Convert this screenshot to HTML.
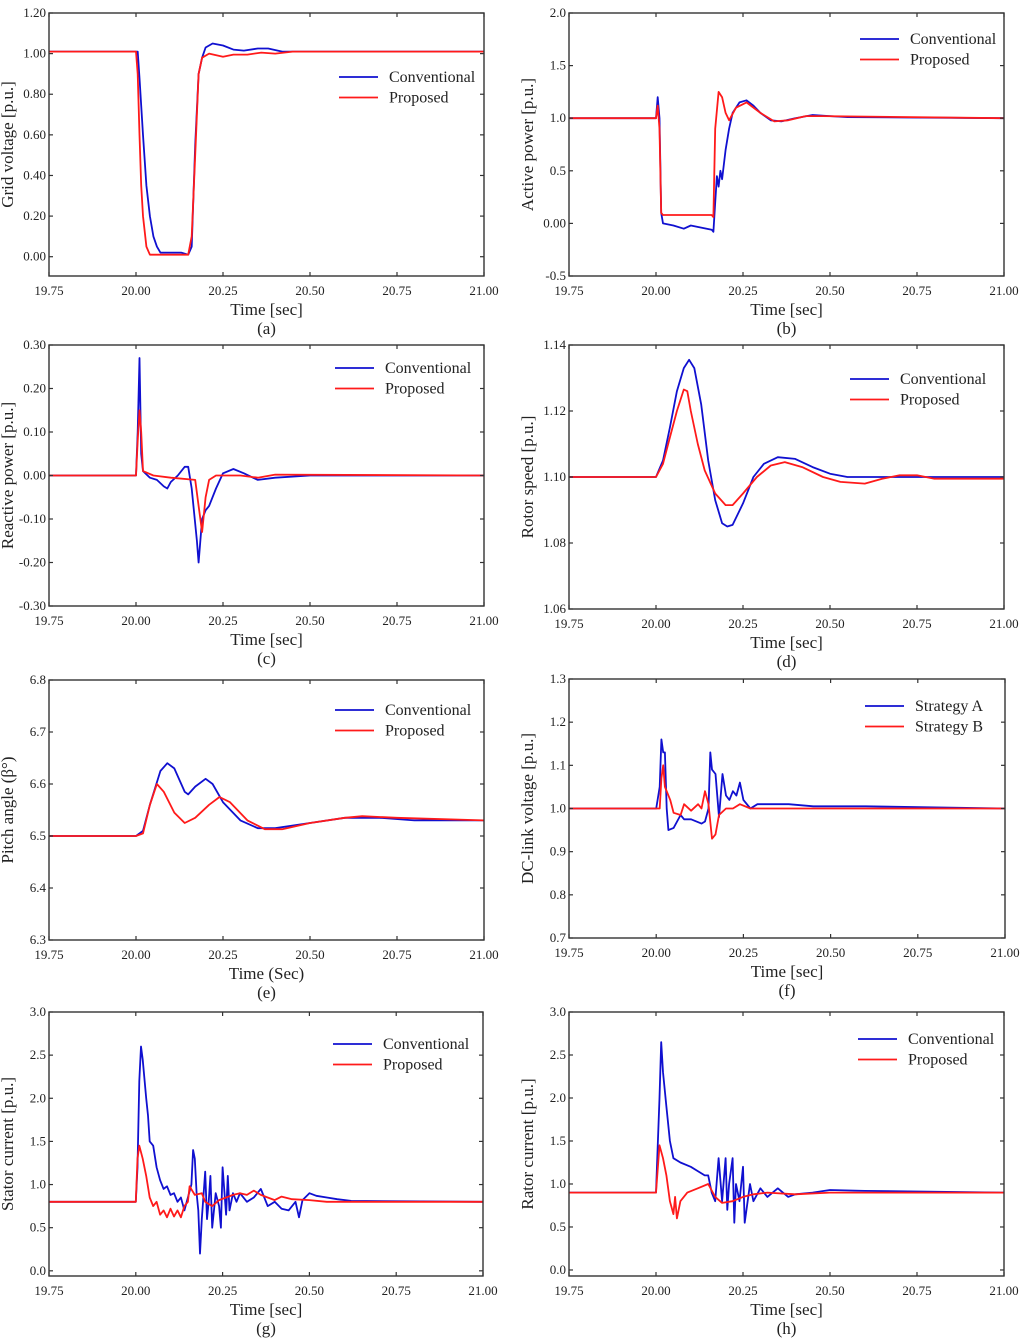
<!DOCTYPE html>
<html><head><meta charset="utf-8"><style>
body{margin:0;background:#fff;width:1024px;height:1338px;overflow:hidden}
svg text{font-family:"Liberation Serif",serif;fill:#222}
</style></head><body>
<svg id="fig" width="1024" height="1338" viewBox="0 0 1024 1338" xmlns="http://www.w3.org/2000/svg"></svg>
<script>
// ---- data (time arrays and value arrays) ----
const aT1=[19.75,20.0,20.005,20.01,20.02,20.03,20.04,20.05,20.06,20.07,20.13,20.15,20.16,20.17,20.18,20.19,20.2,20.22,20.25,20.28,20.31,20.35,20.38,20.42,20.5,21];
const aV1=[1.01,1.01,1.01,0.88,0.6,0.35,0.2,0.1,0.05,0.02,0.02,0.01,0.05,0.55,0.9,0.98,1.03,1.05,1.04,1.02,1.015,1.025,1.025,1.01,1.01,1.01];
const aT2=[19.75,20.0,20.005,20.01,20.015,20.02,20.03,20.04,20.15,20.16,20.17,20.18,20.19,20.21,20.25,20.28,20.32,20.36,20.4,20.45,21];
const aV2=[1.01,1.01,0.9,0.6,0.35,0.2,0.05,0.01,0.01,0.1,0.5,0.9,0.98,1.0,0.985,0.995,0.995,1.005,1.0,1.01,1.01];

const bT1=[19.75,20.0,20.005,20.01,20.015,20.02,20.05,20.08,20.1,20.13,20.16,20.165,20.17,20.175,20.18,20.185,20.19,20.2,20.21,20.22,20.24,20.26,20.28,20.3,20.33,20.36,20.4,20.45,20.5,20.55,21];
const bV1=[1.0,1.0,1.2,1.0,0.1,0.0,-0.02,-0.05,-0.02,-0.04,-0.06,-0.08,0.2,0.45,0.35,0.5,0.42,0.7,0.9,1.05,1.15,1.17,1.12,1.05,0.98,0.97,1.0,1.03,1.02,1.01,1.0];
const bT2=[19.75,20.0,20.005,20.01,20.015,20.02,20.16,20.165,20.17,20.18,20.19,20.2,20.21,20.23,20.26,20.3,20.34,20.38,20.43,20.48,21];
const bV2=[1.0,1.0,1.12,0.9,0.1,0.08,0.08,0.06,0.9,1.25,1.2,1.05,0.98,1.1,1.15,1.05,0.97,0.98,1.02,1.02,1.0];

const cT1=[19.75,20.0,20.005,20.01,20.015,20.02,20.04,20.06,20.08,20.09,20.1,20.12,20.14,20.15,20.16,20.175,20.18,20.19,20.2,20.21,20.23,20.25,20.28,20.31,20.35,20.4,20.5,21];
const cV1=[0,0,0.1,0.27,0.05,0.01,-0.005,-0.01,-0.025,-0.03,-0.015,0.0,0.02,0.02,-0.03,-0.15,-0.2,-0.1,-0.08,-0.07,-0.03,0.005,0.015,0.005,-0.01,-0.005,0,0];
const cT2=[19.75,20.0,20.005,20.01,20.015,20.02,20.05,20.1,20.17,20.18,20.19,20.2,20.21,20.23,20.3,20.35,20.4,21];
const cV2=[0,0,0.08,0.15,0.1,0.01,0.0,-0.005,-0.01,-0.07,-0.13,-0.05,-0.01,0.0,0.0,-0.005,0.002,0];

const dT1=[19.75,20.0,20.02,20.04,20.06,20.08,20.095,20.11,20.13,20.15,20.17,20.19,20.205,20.22,20.25,20.28,20.31,20.35,20.4,20.45,20.5,20.55,21];
const dV1=[1.1,1.1,1.105,1.115,1.126,1.133,1.1355,1.133,1.122,1.105,1.093,1.086,1.085,1.0855,1.092,1.1,1.104,1.106,1.1055,1.103,1.101,1.1,1.1];
const dT2=[19.75,20.0,20.02,20.04,20.06,20.08,20.09,20.1,20.12,20.14,20.17,20.2,20.22,20.25,20.29,20.33,20.37,20.42,20.48,20.53,20.6,20.65,20.7,20.75,20.8,21];
const dV2=[1.1,1.1,1.104,1.112,1.12,1.1265,1.126,1.12,1.11,1.102,1.095,1.0915,1.0915,1.095,1.1,1.1035,1.1045,1.103,1.1,1.0985,1.098,1.0995,1.1005,1.1005,1.0995,1.0995];

const eT1=[19.75,20.0,20.02,20.04,20.07,20.09,20.11,20.14,20.15,20.17,20.2,20.22,20.25,20.3,20.35,20.4,20.5,20.6,20.7,20.8,21];
const eV1=[6.5,6.5,6.51,6.56,6.625,6.64,6.63,6.585,6.58,6.595,6.61,6.6,6.565,6.53,6.515,6.515,6.525,6.535,6.535,6.53,6.53];
const eT2=[19.75,20.0,20.02,20.04,20.06,20.08,20.11,20.14,20.17,20.21,20.24,20.27,20.32,20.37,20.42,20.5,20.6,20.65,20.75,21];
const eV2=[6.5,6.5,6.505,6.56,6.6,6.585,6.545,6.525,6.535,6.56,6.575,6.565,6.53,6.513,6.513,6.525,6.535,6.538,6.535,6.53];

const fT1=[19.75,20.0,20.01,20.015,20.02,20.025,20.03,20.035,20.05,20.07,20.08,20.1,20.13,20.14,20.15,20.155,20.16,20.17,20.18,20.19,20.2,20.21,20.22,20.23,20.24,20.25,20.27,20.29,20.32,20.38,20.45,20.6,21];
const fV1=[1.0,1.0,1.05,1.16,1.13,1.13,1.0,0.95,0.955,0.985,0.975,0.975,0.965,0.97,1.0,1.13,1.09,1.08,0.98,1.08,1.03,1.02,1.04,1.03,1.06,1.02,1.0,1.01,1.01,1.01,1.005,1.005,1.0];
const fT2=[19.75,20.0,20.01,20.015,20.02,20.025,20.03,20.04,20.05,20.07,20.08,20.1,20.12,20.13,20.14,20.15,20.16,20.17,20.18,20.2,20.22,20.24,20.27,20.4,21];
const fV2=[1.0,1.0,1.0,1.07,1.1,1.05,1.04,1.02,0.99,0.985,1.01,0.995,1.01,1.0,1.04,1.01,0.93,0.94,0.985,1.0,1.0,1.01,1.0,1.0,1.0];

const gT1=[19.75,20.0,20.005,20.01,20.015,20.02,20.03,20.035,20.04,20.05,20.06,20.07,20.08,20.09,20.1,20.11,20.12,20.13,20.14,20.15,20.16,20.165,20.17,20.175,20.18,20.185,20.19,20.2,20.205,20.21,20.215,20.22,20.23,20.24,20.245,20.25,20.26,20.265,20.27,20.28,20.29,20.3,20.32,20.34,20.36,20.37,20.38,20.4,20.42,20.44,20.46,20.47,20.48,20.5,20.52,20.55,20.58,20.62,21];
const gV1=[0.8,0.8,1.2,2.2,2.6,2.45,2.0,1.8,1.5,1.45,1.2,1.05,0.95,0.98,0.88,0.9,0.8,0.85,0.7,0.85,1.0,1.4,1.3,0.9,0.7,0.2,0.6,1.15,0.6,0.8,1.1,0.5,0.9,0.75,0.5,1.2,0.65,1.1,0.7,0.9,0.8,0.9,0.8,0.85,0.95,0.85,0.75,0.8,0.72,0.7,0.8,0.62,0.82,0.9,0.87,0.85,0.83,0.81,0.8];
const gT2=[19.75,20.0,20.005,20.01,20.02,20.03,20.04,20.05,20.06,20.07,20.08,20.09,20.1,20.11,20.12,20.13,20.14,20.15,20.155,20.17,20.19,20.2,20.22,20.24,20.26,20.28,20.3,20.32,20.34,20.36,20.38,20.4,20.42,20.45,20.5,20.55,21];
const gV2=[0.8,0.8,1.3,1.45,1.3,1.1,0.85,0.75,0.8,0.65,0.7,0.62,0.72,0.63,0.7,0.62,0.75,0.8,0.98,0.88,0.9,0.8,0.75,0.82,0.85,0.88,0.9,0.88,0.93,0.88,0.85,0.82,0.86,0.83,0.82,0.8,0.8];

const hT1=[19.75,20.0,20.01,20.015,20.02,20.03,20.04,20.05,20.07,20.1,20.12,20.14,20.15,20.16,20.17,20.18,20.19,20.2,20.205,20.21,20.22,20.225,20.23,20.24,20.25,20.255,20.27,20.28,20.3,20.32,20.35,20.38,20.4,20.45,20.5,20.6,21];
const hV1=[0.9,0.9,2.0,2.65,2.3,1.9,1.5,1.3,1.25,1.2,1.15,1.1,1.1,0.9,0.8,1.3,0.8,1.3,0.7,1.0,1.3,0.55,1.0,0.8,1.2,0.55,1.0,0.8,0.95,0.85,0.95,0.85,0.88,0.9,0.93,0.92,0.9];
const hT2=[19.75,20.0,20.01,20.02,20.03,20.04,20.05,20.055,20.06,20.07,20.09,20.12,20.15,20.17,20.19,20.22,20.25,20.28,20.32,20.4,20.5,21];
const hV2=[0.9,0.9,1.45,1.3,1.1,0.8,0.65,0.85,0.6,0.8,0.9,0.95,1.0,0.85,0.78,0.8,0.85,0.88,0.9,0.88,0.9,0.9];

const xTicks=[19.75,20.0,20.25,20.5,20.75,21.0];
const xTickLabels=["19.75","20.00","20.25","20.50","20.75","21.00"];

// ---- drawing ----
const svg=document.getElementById('fig');
const NS='http://www.w3.org/2000/svg';
function mk(tag,attrs,parent){const e=document.createElementNS(NS,tag);for(const k in attrs)e.setAttribute(k,attrs[k]);(parent||svg).appendChild(e);return e;}

const panels=[
 {id:'a',x0:49,x1:484,y0:13,y1:276,ymin:-0.095,ymax:1.2,yt:[0,0.2,0.4,0.6,0.8,1.0,1.2],yl:["0.00","0.20","0.40","0.60","0.80","1.00","1.20"],title:"Grid voltage [p.u.]",xl:"Time [sec]",s:[[aT1,aV1],[aT2,aV2]],leg:["Conventional","Proposed"],lx:339,ly:77},
 {id:'b',x0:569,x1:1004,y0:13,y1:276,ymin:-0.5,ymax:2.0,yt:[-0.5,0,0.5,1.0,1.5,2.0],yl:["-0.5","0.00","0.5","1.0","1.5","2.0"],title:"Active power [p.u.]",xl:"Time [sec]",s:[[bT1,bV1],[bT2,bV2]],leg:["Conventional","Proposed"],lx:860,ly:39},
 {id:'c',x0:49,x1:484,y0:345,y1:606,ymin:-0.3,ymax:0.3,yt:[-0.3,-0.2,-0.1,0,0.1,0.2,0.3],yl:["-0.30","-0.20","-0.10","0.00","0.10","0.20","0.30"],title:"Reactive power [p.u.]",xl:"Time [sec]",s:[[cT1,cV1],[cT2,cV2]],leg:["Conventional","Proposed"],lx:335,ly:368},
 {id:'d',x0:569,x1:1004,y0:345,y1:609,ymin:1.06,ymax:1.14,yt:[1.06,1.08,1.1,1.12,1.14],yl:["1.06","1.08","1.10","1.12","1.14"],title:"Rotor speed [p.u.]",xl:"Time [sec]",s:[[dT1,dV1],[dT2,dV2]],leg:["Conventional","Proposed"],lx:850,ly:379},
 {id:'e',x0:49,x1:484,y0:680,y1:940,ymin:6.3,ymax:6.8,yt:[6.3,6.4,6.5,6.6,6.7,6.8],yl:["6.3","6.4","6.5","6.6","6.7","6.8"],title:"Pitch angle (\u03B2\u00B0)",xl:"Time (Sec)",s:[[eT1,eV1],[eT2,eV2]],leg:["Conventional","Proposed"],lx:335,ly:710},
 {id:'f',x0:569,x1:1005,y0:679,y1:938,ymin:0.7,ymax:1.3,yt:[0.7,0.8,0.9,1.0,1.1,1.2,1.3],yl:["0.7","0.8","0.9","1.0","1.1","1.2","1.3"],title:"DC-link voltage [p.u.]",xl:"Time [sec]",s:[[fT1,fV1],[fT2,fV2]],leg:["Strategy A","Strategy B"],lx:865,ly:706},
 {id:'g',x0:49,x1:483,y0:1012,y1:1276,ymin:-0.06,ymax:3.0,yt:[0,0.5,1,1.5,2,2.5,3],yl:["0.0","0.5","1.0","1.5","2.0","2.5","3.0"],title:"Stator current [p.u.]",xl:"Time [sec]",s:[[gT1,gV1],[gT2,gV2]],leg:["Conventional","Proposed"],lx:333,ly:1044},
 {id:'h',x0:569,x1:1004,y0:1012,y1:1276,ymin:-0.07,ymax:3.0,yt:[0,0.5,1,1.5,2,2.5,3],yl:["0.0","0.5","1.0","1.5","2.0","2.5","3.0"],title:"Rator current [p.u.]",xl:"Time [sec]",s:[[hT1,hV1],[hT2,hV2]],leg:["Conventional","Proposed"],lx:858,ly:1039}
];
const colors=['#1010d0','#ff1a1a'];

panels.forEach(p=>{
  const g=mk('g',{});
  
  
  const X=t=>p.x0+(t-19.75)/(1.25)*(p.x1-p.x0);
  const Y=v=>p.y1-(v-p.ymin)/(p.ymax-p.ymin)*(p.y1-p.y0);
  const clip=mk('clipPath',{id:'clip'+p.id},g);
  mk('rect',{x:p.x0,y:p.y0,width:p.x1-p.x0,height:p.y1-p.y0},clip);
  p.s.forEach((sr,i)=>{
    const d=sr[0].map((t,k)=>(k?'L':'M')+X(t).toFixed(1)+','+Y(sr[1][k]).toFixed(1)).join('');
    const path=mk('path',{d:d,fill:'none',stroke:colors[i],'stroke-width':1.8,'stroke-linejoin':'round','clip-path':'url(#clip'+p.id+')'},g);
    
    
  });
  const fr=mk('rect',{x:p.x0,y:p.y0,width:p.x1-p.x0,height:p.y1-p.y0,fill:'none',stroke:'#333','stroke-width':1.4},g);
  
  
  xTicks.forEach((t,k)=>{
    const x=X(t);
    mk('line',{x1:x,x2:x,y1:p.y1,y2:p.y1-4,stroke:'#333','stroke-width':1.2},g);
    mk('line',{x1:x,x2:x,y1:p.y0,y2:p.y0+4,stroke:'#333','stroke-width':1.2},g);
    const tx=mk('text',{x:x,y:p.y1+19,'font-size':13,'text-anchor':'middle'},g);
    tx.textContent=xTickLabels[k];
    
    
  });
  p.yt.forEach((v,k)=>{
    const y=Y(v);
    mk('line',{x1:p.x0,x2:p.x0+4,y1:y,y2:y,stroke:'#333','stroke-width':1.2},g);
    mk('line',{x1:p.x1,x2:p.x1-4,y1:y,y2:y,stroke:'#333','stroke-width':1.2},g);
    const ty=mk('text',{x:p.x0-3,y:y+4,'font-size':13,'text-anchor':'end'},g);
    ty.textContent=p.yl[k];
    
    
  });
  const cx=(p.x0+p.x1)/2, cy=(p.y0+p.y1)/2;
  const xt=mk('text',{x:cx,y:p.y1+39,'font-size':17,'text-anchor':'middle'},g);
  xt.textContent=p.xl;
  
  
  const cap=mk('text',{x:cx,y:p.y1+58,'font-size':17,'text-anchor':'middle'},g);
  cap.textContent='('+p.id+')';
  
  
  const ytx=p.x0-36;
  const yt=mk('text',{x:ytx,y:cy,'font-size':17,'text-anchor':'middle',transform:'rotate(-90 '+ytx+' '+cy+')'},g);
  yt.textContent=p.title;
  
  
  p.leg.forEach((lab,i)=>{
    const ly=p.ly+i*20.5;
    const ll=mk('line',{x1:p.lx,x2:p.lx+39,y1:ly,y2:ly,stroke:colors[i],'stroke-width':1.8},g);
    
    
    const lt=mk('text',{x:p.lx+50,y:ly+5,'font-size':16},g);
    lt.textContent=lab;
    
    
  });
});
</script>
</body></html>
